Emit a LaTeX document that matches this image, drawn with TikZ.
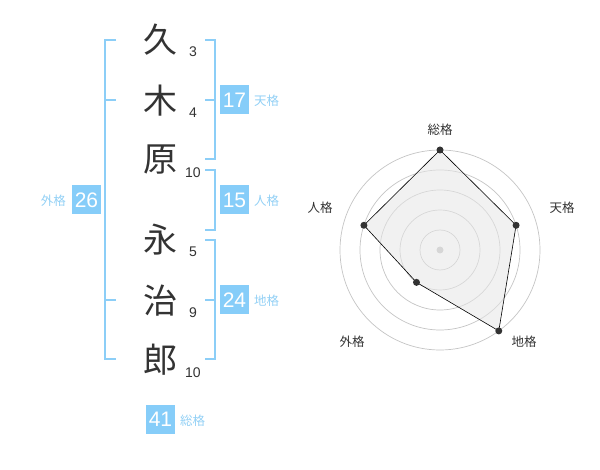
\documentclass[tikz,border=0pt]{standalone}
\usepackage{fontspec}
\usetikzlibrary{calc}
\setmainfont{Liberation Sans}
\newfontfamily\cjk{Noto Sans CJK JP}
\definecolor{brk}{HTML}{8CCEF7}
\definecolor{boxc}{HTML}{86CDF9}
\definecolor{lblc}{HTML}{92D0F5}
\definecolor{txt}{HTML}{333333}
\definecolor{ring}{HTML}{C4C4C4}
\definecolor{area}{HTML}{E6E6E6}
\tikzset{
  bracket/.style={draw=brk, line width=2pt},
  kanji/.style={font=\cjk\fontsize{34}{34}\selectfont, text=txt, inner sep=0pt},
  strokes/.style={font=\fontsize{14}{14}\selectfont, text=txt, inner sep=0pt},
  scorebox/.style={fill=boxc, text=white, minimum width=29pt, minimum height=29pt, inner sep=0pt, font=\fontsize{21}{21}\selectfont},
  kaku/.style={text=lblc, font=\cjk\fontsize{12.5}{12.5}\selectfont, inner sep=0pt},
  ringc/.style={draw=ring, line width=0.7pt},
  radlbl/.style={text=txt, font=\cjk\fontsize{12.5}{12.5}\selectfont, inner sep=0pt},
  vdot/.style={circle, fill=txt, minimum size=7pt, inner sep=0pt},
}
\begin{document}
\begin{tikzpicture}[x=1pt, y=-1pt]
\useasboundingbox (0,0) rectangle (600,470);
% kanji
\node[kanji] (k1) at (160,40) {久};
\node[kanji] (k2) at (160,101) {木};
\node[kanji] (k3) at (160,160) {原};
\node[kanji] (k4) at (160,240) {永};
\node[kanji] (k5) at (160,301) {治};
\node[kanji] (k6) at (160,360) {郎};
% stroke counts
\node[strokes] (s1) at (193,52) {3};
\node[strokes] (s2) at (193,113) {4};
\node[strokes] (s3) at (193,172.5) {10};
\node[strokes] (s4) at (193,252) {5};
\node[strokes] (s5) at (193,313) {9};
\node[strokes] (s6) at (193,372.5) {10};
% brackets
\draw[bracket] (116,40) -- (105,40) -- (105,359) -- (116,359);
\draw[bracket] (105,100) -- (116,100);
\draw[bracket] (105,300) -- (116,300);
\draw[bracket] (205,40) -- (215,40) -- (215,159) -- (205,159);
\draw[bracket] (205,100) -- (215,100);
\draw[bracket] (205,170) -- (215,170) -- (215,230) -- (205,230);
\draw[bracket] (205,240) -- (215,240) -- (215,359) -- (205,359);
\draw[bracket] (205,300) -- (215,300);
% score boxes
\node[scorebox] (ten) at (234.5,100) {17};
\node[kaku, anchor=west] (tenl) at (254,101) {天格};
\node[scorebox] (jin) at (234.5,200) {15};
\node[kaku, anchor=west] (jinl) at (254,201) {人格};
\node[scorebox] (chi) at (234.5,300) {24};
\node[kaku, anchor=west] (chil) at (254,301) {地格};
\node[scorebox] (gai) at (86.5,200) {26};
\node[kaku, anchor=east] (gail) at (66,201) {外格};
\node[scorebox] (sou) at (160.5,419) {41};
\node[kaku, anchor=west] (soul) at (180,421) {総格};
% radar
\coordinate (c) at (440,250);
\foreach \r in {20,40,60,80,100} \draw[ringc] (c) circle (\r);
\fill[ring] (c) circle (3.5);
\coordinate (pS) at ($(c)+(-90:100)$);
\coordinate (pT) at ($(c)+(-18:80)$);
\coordinate (pC) at ($(c)+(54:100)$);
\coordinate (pG) at ($(c)+(126:40)$);
\coordinate (pJ) at ($(c)+(198:80)$);
\filldraw[fill=area, fill opacity=0.55, draw=black, line width=0.6pt] (pS) -- (pT) -- (pC) -- (pG) -- (pJ) -- cycle;
\foreach \p in {pS,pT,pC,pG,pJ} \node[vdot] at (\p) {};
\node[radlbl] (lS) at (440,130) {総格};
\node[radlbl] (lT) at (562,208) {天格};
\node[radlbl] (lC) at (524,342) {地格};
\node[radlbl] (lG) at (352,342) {外格};
\node[radlbl] (lJ) at (320,208) {人格};
\end{tikzpicture}
\end{document}
